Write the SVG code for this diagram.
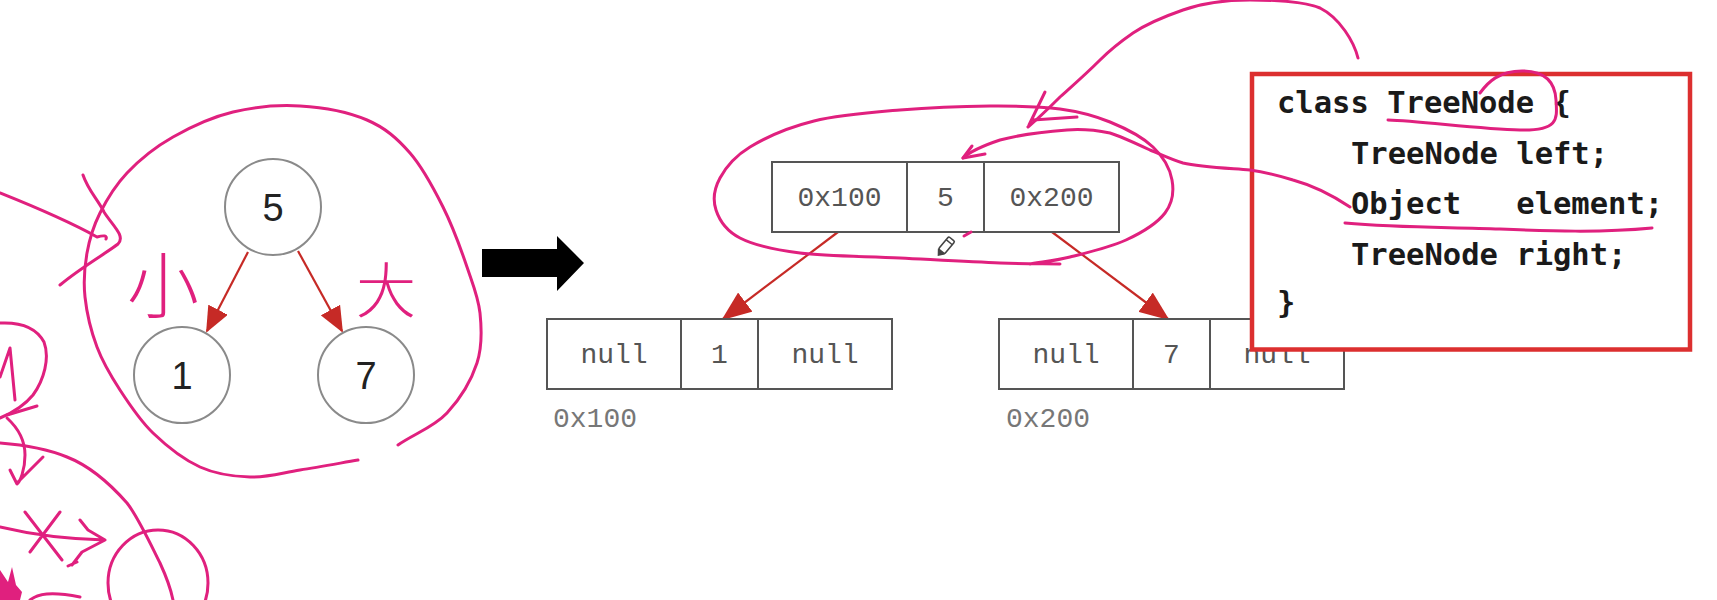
<svg xmlns="http://www.w3.org/2000/svg" width="1717" height="600" viewBox="0 0 1717 600">
<defs>
<marker id="ah" markerUnits="userSpaceOnUse" markerWidth="26" markerHeight="22" refX="24" refY="11" orient="auto"><path d="M0,0 L26,11 L0,22 z" fill="#c62a26"/></marker>
<marker id="ah2" markerUnits="userSpaceOnUse" markerWidth="30" markerHeight="24" refX="28" refY="12" orient="auto"><path d="M0,0 L30,12 L0,24 z" fill="#c62a26"/></marker>
<style>
.tn{fill:#fff;stroke:#8a8a8a;stroke-width:2}
.tt{font-family:"Liberation Sans",Arial,sans-serif;font-size:38px;fill:#222;text-anchor:middle}
.cell{fill:#fff;stroke:#555;stroke-width:2}
.mt{font-family:"Liberation Mono","Courier New",monospace;font-size:28px;fill:#555;text-anchor:middle}
.ml{font-family:"Liberation Mono","Courier New",monospace;font-size:28px;fill:#777}
.edge{stroke:#c62a26;stroke-width:2.2;fill:none}
.code{font-family:"DejaVu Sans Mono","Liberation Mono",monospace;font-weight:bold;font-size:30.5px;fill:#1a1a1a}
.pk{fill:none;stroke:#e0207e;stroke-width:3;stroke-linecap:round;stroke-linejoin:round}
.hand{font-family:"Noto Sans CJK SC",sans-serif;font-weight:300;fill:#e0207e}
</style>
</defs>
<rect width="1717" height="600" fill="#fff"/>

<g id="tree-connectors">
<line class="edge" x1="248" y1="252" x2="207" y2="331" marker-end="url(#ah)"/>
<line class="edge" x1="298" y1="251" x2="342" y2="331" marker-end="url(#ah)"/>
</g>
<g id="node-5"><circle class="tn" cx="273" cy="207" r="48"/><text class="tt" x="273" y="221">5</text></g>
<g id="node-1"><circle class="tn" cx="182" cy="375" r="48"/><text class="tt" x="182" y="389">1</text></g>
<g id="node-7"><circle class="tn" cx="366" cy="375" r="48"/><text class="tt" x="366" y="389">7</text></g>

<g id="big-arrow"><polygon points="482,249 557,249 557,236 584,263 557,291 557,277 482,277" fill="#000"/></g>

<g id="mem-connectors">
<line class="edge" x1="838" y1="232" x2="723" y2="319" marker-end="url(#ah2)"/>
<line class="edge" x1="1052" y1="232" x2="1168" y2="319" marker-end="url(#ah2)"/>
</g>
<g id="rec-root">
<rect class="cell" x="772" y="162" width="135" height="70"/>
<rect class="cell" x="907" y="162" width="77" height="70"/>
<rect class="cell" x="984" y="162" width="135" height="70"/>
<text class="mt" x="839.5" y="206">0x100</text>
<text class="mt" x="945.5" y="206">5</text>
<text class="mt" x="1051.5" y="206">0x200</text>
</g>
<g id="rec-left">
<rect class="cell" x="547" y="319" width="134" height="70"/>
<rect class="cell" x="681" y="319" width="77" height="70"/>
<rect class="cell" x="758" y="319" width="134" height="70"/>
<text class="mt" x="614" y="363">null</text>
<text class="mt" x="719.5" y="363">1</text>
<text class="mt" x="825" y="363">null</text>
<text class="ml" x="553" y="427">0x100</text>
</g>
<g id="rec-right">
<rect class="cell" x="999" y="319" width="134" height="70"/>
<rect class="cell" x="1133" y="319" width="77" height="70"/>
<rect class="cell" x="1210" y="319" width="134" height="70"/>
<text class="mt" x="1066" y="363">null</text>
<text class="mt" x="1171.5" y="363">7</text>
<text class="mt" x="1277" y="363">null</text>
<text class="ml" x="1006" y="427">0x200</text>
</g>

<g id="code-box">
<rect x="1252" y="74" width="438" height="275.5" fill="#fff" stroke="#dc2f2f" stroke-width="4.5"/>
<text class="code" x="1277" y="113">class TreeNode {</text>
<text class="code" x="1351" y="164">TreeNode left;</text>
<text class="code" x="1351" y="214" xml:space="preserve">Object   element;</text>
<text class="code" x="1351" y="265">TreeNode right;</text>
<text class="code" x="1277" y="313">}</text>
</g>

<g id="cursor"><g transform="translate(946,246) rotate(40)"><rect x="-4" y="-9" width="8" height="16" rx="1.5" fill="#fff" stroke="#444" stroke-width="1.6"/><path d="M-4,7 L0,12 L4,7" fill="#444" stroke="#444" stroke-width="1.2"/><line x1="-4" y1="-5" x2="4" y2="-5" stroke="#444" stroke-width="1.4"/></g></g>

<g id="annotations">
<path class="pk" d="M398,445 C414,434 434,427 447,413 S471.5,379.7 477,363 S481.7,329 480,313 S473,284.7 467,267 S452.5,226 443,207 S422.7,167.5 410,153 S385.3,127.8 367,120 S322.3,107.3 300,106 S254,107 233,112 S190.7,127 173,137 S139,160.3 127,173 S106.7,199.7 100,213 S89.5,239 87,253 S83.3,281.3 85,297 S91.2,331.5 97,347 S110.7,375.7 120,390 S139.7,420.2 153,433 S184,459.7 200,467 S233.3,476.5 250,477 S282,472.8 300,470 S339,463.3 358,460"/>
<text class="hand" x="163" y="312" font-size="72" text-anchor="middle">小</text>
<text class="hand" x="386" y="313" font-size="60" text-anchor="middle">大</text>
<path class="pk" d="M0,193 C30,205 70,222 97,237 Q108,234 106,239"/>
<path class="pk" d="M83,175 C88,190 98,200 104,212 C112,225 126,236 118,244 C108,252 80,268 60,285"/>
<path class="pk" d="M0,323 C20,322 36,327 44,342 C50,358 44,380 33,395 C24,406 12,413 0,418"/>
<path class="pk" d="M0,377 L10,348 L15,400"/>
<path class="pk" d="M7,415 L37,406"/>
<path class="pk" d="M7,418 C18,428 25,440 25,455 C25,470 20,482 17,484 L10,470 M18,482 L43,457"/>
<path class="pk" d="M0,443 C25,445 50,450 67,457 C90,466 112,486 127,503 C138,517 150,543 160,563 C166,576 171,590 173,600"/>
<ellipse class="pk" cx="158" cy="583" rx="50" ry="53"/>
<path class="pk" d="M25,512 L62,560 M60,512 L30,552 M0,527 C25,533 60,539 105,540 M80,520 L88,530 L105,540 L82,552 L72,565 M68,566 L77,562"/>
<path d="M0,570 L8,582 L12,567 L16,585 L22,592 L20,600 L0,600 z" fill="#e0207e"/>
<path class="pk" d="M30,600 C38,594 50,591 80,597"/>

<path class="pk" d="M1060,264 C1040,263.7 1026.7,264 1000,263 S933.3,259.7 900,258 S826.7,256.3 800,253 S754,245.2 740,238 S719.3,220 716,210 S714.3,188.5 720,178 S734.3,156.5 750,147 S789,127.2 814,121 S870.7,112.5 900,110 S963.3,106.2 990,106 S1040,106.3 1060,109 S1094.5,115.7 1110,122 S1142.7,137.3 1153,147 S1170,169 1172,180 S1172.7,203 1165,213 S1141.8,232.7 1126,240 S1086,253 1070,257 S1043.3,261.7 1030,264"/>
<path class="pk" d="M964,236 L971,232"/>
<path class="pk" d="M1358,58 C1354,42 1340,18 1320,8 C1305,2 1280,0 1250,0 C1225,0 1200,4 1183,10 C1160,18 1145,25 1133,33 C1120,42 1110,50 1100,60 C1085,75 1070,88 1060,97 C1050,107 1040,117 1028,127"/>
<path class="pk" d="M1045,92 L1029,125 M1033,120 L1077,117"/>
<path class="pk" d="M1350,207 C1335,197 1315,186 1293,180 C1280,176 1265,172 1250,170 C1225,168 1200,167 1183,163 C1170,159 1160,154 1150,150 C1135,143 1120,136 1110,133 C1095,130 1080,129 1067,130 C1040,132 1015,136 1000,140 C985,145 972,150 963,158"/>
<path class="pk" d="M972,146 L963,158 L985,154"/>
<path class="pk" d="M1388,120 C1420,121 1480,129 1520,130 S1557,118 1556,100 S1545,71 1522,71 S1488,82 1480,93"/>
<path class="pk" d="M1345,223 C1400,228 1450,227 1500,229 S1600,233 1652,228"/>
</g>
</svg>
